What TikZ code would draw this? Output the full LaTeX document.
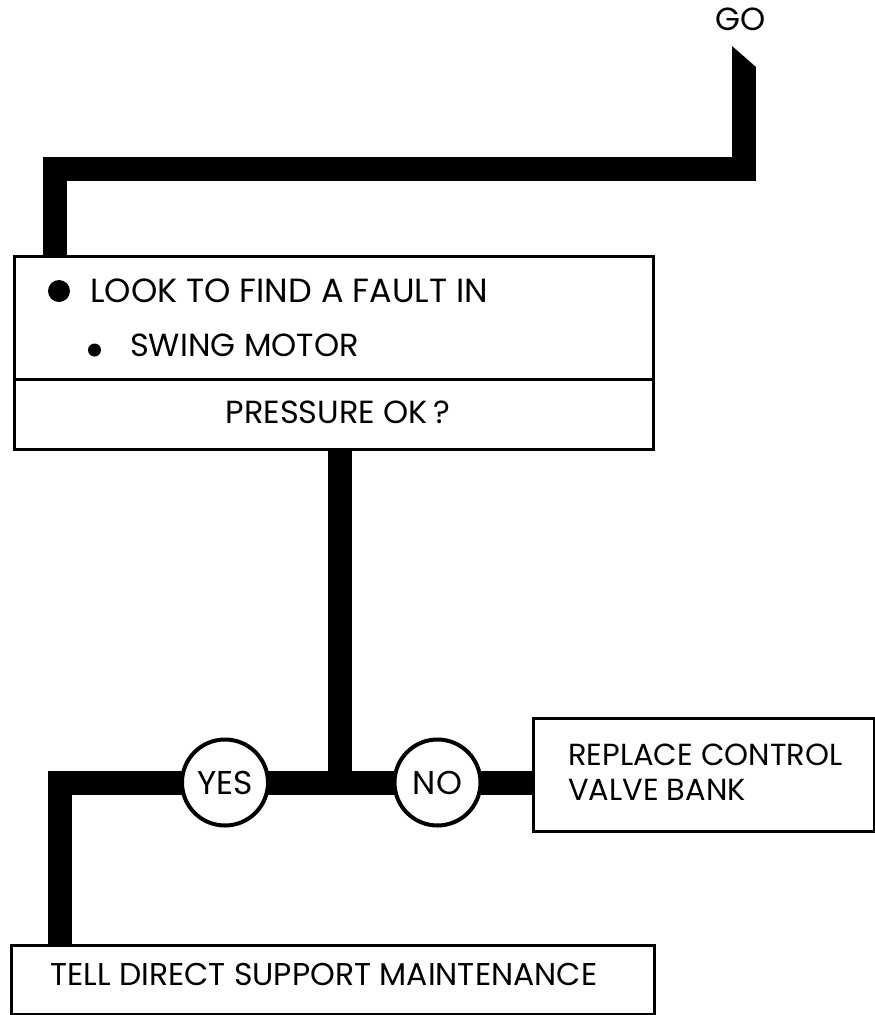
\documentclass[tikz,border=0pt]{standalone}
\usepackage{fontspec}
\setmainfont{Poppins}
\pgfdeclarelayer{bg}
\pgfsetlayers{bg,main}
\tikzset{
  box/.style={draw=black, line width=2.7pt, fill=white, inner sep=0pt, anchor=north west},
  ring/.style={circle, draw=black, line width=4pt, fill=white, minimum size=86pt, inner sep=0pt, font=\fontsize{33}{38}\selectfont},
  wire/.style={line width=24pt, line join=miter, line cap=butt, draw=black},
  txt/.style={anchor=base west, inner sep=0pt, font=\fontsize{32}{38}\selectfont},
}
\begin{document}
\begin{tikzpicture}[x=1pt, y=-1pt]
\useasboundingbox (0,0) rectangle (875,1015);
% boxes
\node[box, minimum width=639pt, minimum height=123pt] (look) at (13,255) {};
\node[box, minimum width=639pt, minimum height=70pt] (press) at (13,378) {};
\node[box, minimum width=341pt, minimum height=113pt] (rep) at (532,717) {};
\node[box, minimum width=643pt, minimum height=69pt] (tell) at (10,944) {};
% circles
\node[ring] (yes) at (225,782.5) {YES};
\node[ring] (no) at (437.5,782.5) {NO};
% texts
\node[anchor=base, inner sep=0pt, font=\fontsize{32}{36}\selectfont] (go) at (741,30) {GO};
\fill (59,291) circle (11);
\node[txt, font=\fontsize{33.5}{38}\selectfont] (t1) at (90,302) {LOOK TO FIND A FAULT IN};
\fill (94.5,350) circle (6.5);
\node[txt] (t2) at (130,356) {SWING MOTOR};
\node[txt, anchor=base] (t3) at (338,423) {PRESSURE OK\,?};
\node[txt, font=\fontsize{30.5}{36}\selectfont] (t4) at (568,765) {REPLACE CONTROL};
\node[txt, font=\fontsize{30.5}{36}\selectfont] (t5) at (568,800) {VALVE BANK};
\node[txt, font=\fontsize{31.5}{36}\selectfont] (t6) at (50,985) {TELL DIRECT SUPPORT MAINTENANCE};
% connector coordinates
\coordinate (goend) at (744,67);
\coordinate (lk) at (55,168.5);
\coordinate (jn) at (339.5,782.5);
\coordinate (lc) at (59.5,782.5);
\begin{pgfonlayer}{bg}
\fill (732,46) -- (756,67) -- (732,67) -- cycle;
\draw[wire] (goend) |- (lk) -- (lk |- look.north);
\draw[wire] (jn |- press.south) -- (jn);
\draw[wire] (yes.center) -- (no.center);
\draw[wire] (yes.center) -- (lc) -- (lc |- tell.north);
\draw[wire] (no.center) -- (no.center -| rep.west);
\end{pgfonlayer}
\end{tikzpicture}
\end{document}
